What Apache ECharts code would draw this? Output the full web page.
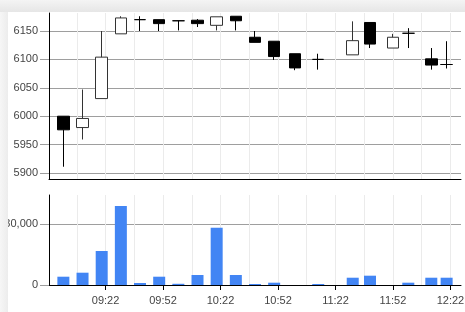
<!DOCTYPE html>
<html><head><meta charset="utf-8">
<script src="https://cdn.jsdelivr.net/npm/echarts@6/dist/echarts.min.js"></script>
<style>html,body{margin:0;padding:0;background:#fff}#c{width:465px;height:312px}</style>
</head><body><div id="c"></div>
<script>
// ---- data ----
const times  = ['09:00','09:10','09:20','09:30','09:40','09:50','10:00','10:10','10:20','10:30','10:40','10:50','11:01','11:13','11:31','11:40','11:52','12:00','12:12','12:20'];
const open   = [6000,5980,6031,6145,6170,6170,6168,6169,6160,6176,6139,6132,6110,6100,6108,6165,6120,6146,6101,6091];
const close  = [5976,5996,6104,6173,6170,6163,6168,6163,6175,6168,6130,6105,6085,6100,6133,6127,6139,6146,6090,6091];
const low    = [5911,5959,6031,6145,6150,6150,6151,6157,6151,6151,6130,6099,6081,6082,6108,6120,6120,6120,6082,6084];
const high   = [6000,6047,6150,6176,6176,6170,6168,6171,6175,6176,6150,6132,6110,6110,6167,6165,6145,6155,6120,6132];
const volume = [4100,6080,16800,39000,1000,4100,600,4940,28300,4940,500,1140,0,500,3600,4600,0,1140,3600,3600];
const xTickLabels = ['09:22','09:52','10:22','10:52','11:22','11:52','12:22'];
const xGridLines  = ['09:07','09:22','09:37','09:52','10:07','10:22','10:37','10:52','11:07','11:22','11:37','11:52','12:07','12:22'];
const priceTicks  = [5900,5950,6000,6050,6100,6150];
const volumeTicks = [0,30000];

const toMin = s => { const p = s.split(':').map(Number); return p[0]*60 + p[1]; };
const fmtTime = v => { const h = Math.floor(v/60), m = Math.round(v - h*60); return String(h).padStart(2,'0') + ':' + String(m).padStart(2,'0'); };
const fmtNum = v => String(v).replace(/\B(?=(\d{3})+(?!\d))/g, ',');
const fmtPlain = v => String(v);

const xMin = toMin('08:52') + 0.5, xMax = toMin('12:27') + 0.5;
const candleData = times.map((t,i) => [toMin(t), open[i], close[i], low[i], high[i]]);
const volData = times.map((t,i) => [toMin(t), volume[i]]);
const gridVals = xGridLines.map(toMin);
const labelVals = xTickLabels.map(toMin);

const font = 'Arial, "Liberation Sans", sans-serif';
const chart = echarts.init(document.getElementById('c'), null, {renderer:'canvas'});
chart.setOption({
  animation: false,
  backgroundColor: '#fff',
  grid: [
    {left: 49, top: 13, width: 412, height: 166, containLabel: false, outerBoundsMode: 'none'},
    {left: 49, top: 195, width: 412, height: 90, containLabel: false, outerBoundsMode: 'none'}
  ],
  xAxis: [
    {gridIndex:0, type:'value', min:xMin, max:xMax, position:'bottom',
     axisLine:{show:true, onZero:false, lineStyle:{color:'#000', width:1}},
     axisTick:{show:false, customValues: gridVals}, axisLabel:{show:false},
     splitLine:{show:true, lineStyle:{color:'#ebebeb', width:1}}},
    {gridIndex:1, type:'value', min:xMin, max:xMax, position:'bottom',
     axisLine:{show:false, onZero:false},
     axisTick:{show:false, customValues: gridVals}, axisLabel:{show:false},
     splitLine:{show:true, lineStyle:{color:'#ebebeb', width:1}}},
    {gridIndex:1, type:'value', min:xMin, max:xMax, position:'bottom',
     axisLine:{show:true, onZero:false, lineStyle:{color:'#000', width:1}},
     axisTick:{show:true, length:5, customValues: labelVals, lineStyle:{color:'#000'}},
     axisLabel:{show:true, customValues: labelVals, formatter: fmtTime, color:'#444', fontSize:11, fontFamily:font, margin:10},
     splitLine:{show:false}}
  ],
  yAxis: [
    {gridIndex:0, type:'value', min:5889.4, max:6181.7,
     axisLine:{show:true, onZero:false, lineStyle:{color:'#000', width:1}},
     axisTick:{show:true, length:9, customValues: priceTicks, lineStyle:{color:'#9e9e9e'}},
     axisLabel:{show:true, customValues: priceTicks, formatter: fmtPlain, color:'#444', fontSize:11, fontFamily:font, margin:11},
     splitLine:{show:true, lineStyle:{color:'#9e9e9e', width:1}}},
    {gridIndex:1, type:'value', min:0, max:44481,
     axisLine:{show:true, onZero:false, lineStyle:{color:'#000', width:1}},
     axisTick:{show:true, length:9, customValues: volumeTicks, lineStyle:{color:'#9e9e9e'}},
     axisLabel:{show:true, customValues: volumeTicks, formatter: fmtNum, color:'#444', fontSize:11, fontFamily:font, margin:11},
     splitLine:{show:true, lineStyle:{color:'#9e9e9e', width:1}}}
  ],
  series: [
    {type:'candlestick', xAxisIndex:0, yAxisIndex:0, barWidth:12,
     encode:{x:0, y:[1,2,3,4]},
     data: candleData,
     itemStyle:{color:'#fff', color0:'#000', borderColor:'#333', borderColor0:'#000', borderColorDoji:'#000', borderWidth:1}},
    {type:'bar', xAxisIndex:2, yAxisIndex:1, barWidth:12, data: volData,
     itemStyle:{color:'#4285f4'}}
  ],
  graphic: [
    {type:'rect', z:100, shape:{x:0, y:0, width:465, height:12},
     style:{fill:{type:'linear', x:0, y:0, x2:0, y2:1, colorStops:[{offset:0, color:'#f4f4f4'},{offset:1, color:'#e6e6e6'}]}}},
    {type:'rect', z:100, shape:{x:0, y:12, width:8, height:300},
     style:{fill:{type:'linear', x:0, y:0, x2:1, y2:0, colorStops:[{offset:0, color:'#f6f6f6'},{offset:1, color:'#ececec'}]}}}
  ]
});
</script></body></html>
